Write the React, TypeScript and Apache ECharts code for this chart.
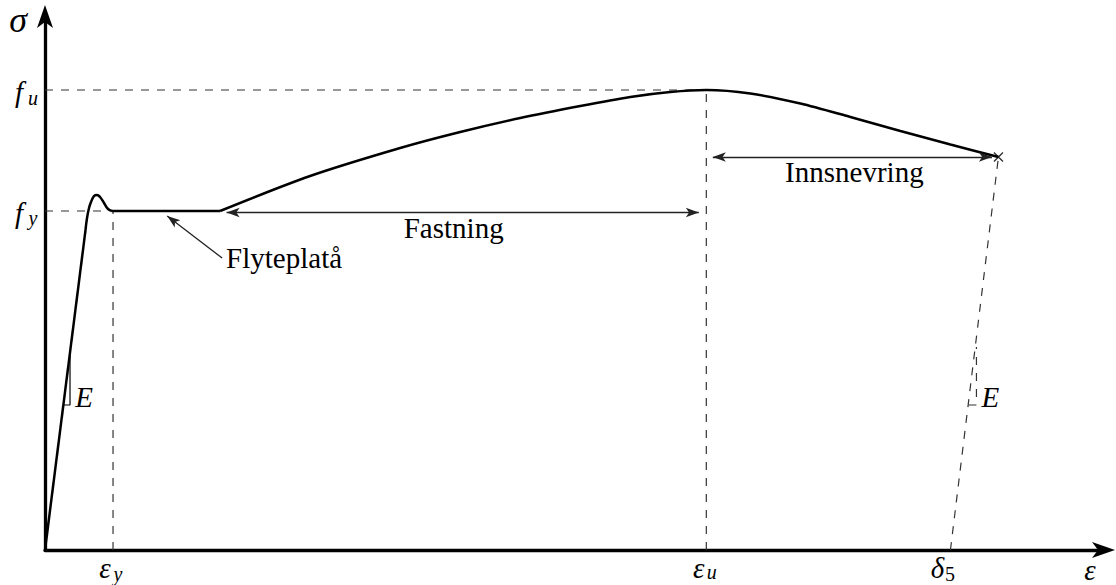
import React, { useEffect, useRef } from "react";
import * as echarts from "echarts";

// Schematic stress–strain diagram for structural steel (arbitrary units)
const EPS_MAX = 1058;
const SIG_MAX = 534;

const epsY = 68; // yield strain
const epsU = 661; // strain at ultimate strength
const delta5 = 905; // elongation after fracture
const fY = 339; // yield strength
const fU = 460; // ultimate strength

// linear elastic branch
const elasticBranch: number[][] = [[0, 0], [40.5, 320]];
// upper yield point, dropping back onto the plateau
const yieldPeak: number[][] = [
  [40.5, 320], [42, 332], [44, 342], [46, 348], [49, 354],
  [52, 355], [55, 353], [59, 347], [63, 341], [67, 339],
];
// yield plateau
const yieldPlateau: number[][] = [[67, 339], [175, 339]];
// strain hardening up to f_u, then necking down to fracture
const hardeningBranch: number[][] = [
  [175, 339], [265, 374], [355, 402], [415, 418], [475, 432], [535, 444],
  [585, 453], [625, 458], [661, 460], [705, 456.5], [755, 446.5],
  [805, 433], [855, 419], [905, 405.5], [953, 393],
];
const fracturePoint: number[][] = [[953, 393]];

// slope markers for the modulus E
const slopeMarkLeft: number[][] = [[18.5, 145], [25, 145], [25, 196]];
const slopeMarkRight: number[][] = [[923, 145], [931, 145], [931, 203]];

const ARROW_W = 7;
const ARROW_H = 13;

export default function App() {
  const ref = useRef<HTMLDivElement>(null);

  useEffect(() => {
    document.body.style.margin = "0";
    const el = ref.current!;
    const chart = echarts.init(el, null, { renderer: "svg" });

    const curveStyle = { color: "#000", width: 2.5 };
    const dashStyle = { color: "#333", width: 1.2, type: [8, 8] as number[] };
    const thinStyle = { color: "#222", width: 1.3, type: "solid" as const };

    const plain = (data: number[][], lineStyle: any, smooth: number | boolean = false) => ({
      type: "line",
      data,
      symbol: "none",
      smooth,
      lineStyle,
      silent: true,
      animation: false,
      z: 3,
    });

    // pull an arrow end back so that the head's tip lands on the given point
    const pull = (from: number[], to: number[], d: number) => {
      const vx = to[0] - from[0];
      const vy = to[1] - from[1];
      const len = Math.hypot(vx, vy);
      return [to[0] - (vx / len) * d, to[1] - (vy / len) * d];
    };
    const doubleArrow = (a: number[], b: number[]) => [
      { coord: pull(b, a, ARROW_H / 2) },
      { coord: pull(a, b, ARROW_H / 2) },
    ];

    const fastA = [yieldPlateau[1][0], fY - 1.5];
    const fastB = [epsU - 1, fY - 1.5];
    const innA = [epsU, fracturePoint[0][1]];
    const innB = fracturePoint[0];
    const flyTail = [177, 292];
    const flyTip = [117, fY - 1];

    const axisCommon = {
      type: "value",
      axisLine: { show: true, lineStyle: { color: "#000", width: 3.3 } },
      axisTick: { show: false },
      axisLabel: { show: false },
      splitLine: { show: false },
    };

    chart.setOption({
      animation: false,
      grid: { left: 45, right: 12.5, top: 16, bottom: 35 },
      xAxis: { ...axisCommon, min: 0, max: EPS_MAX },
      yAxis: { ...axisCommon, min: 0, max: SIG_MAX },
      series: [
        // guide lines
        plain([[0, fU], [epsU, fU]], dashStyle),
        plain([[0, fY], [57, fY]], dashStyle),
        plain([[epsY, 0], [epsY, fY]], dashStyle),
        plain([[epsU, 0], [epsU, fU]], dashStyle),
        plain([[delta5, 0], fracturePoint[0]], dashStyle),
        plain(slopeMarkRight, dashStyle),
        plain(slopeMarkLeft, { color: "#000", width: 1.2 }),
        // the curve
        plain(elasticBranch, curveStyle),
        plain(yieldPeak, curveStyle, 0.4),
        {
          ...plain(yieldPlateau, curveStyle),
          markLine: {
            silent: true,
            symbol: ["none", "arrow"],
            symbolSize: [ARROW_W, ARROW_H],
            label: { show: false },
            emphasis: { disabled: true },
            lineStyle: thinStyle,
            data: [[{ coord: flyTail }, { coord: pull(flyTail, flyTip, ARROW_H / 2) }]],
          },
        },
        {
          ...plain(hardeningBranch, curveStyle, 0.3),
          markLine: {
            silent: true,
            symbol: ["arrow", "arrow"],
            symbolSize: [ARROW_W, ARROW_H],
            label: { show: false },
            emphasis: { disabled: true },
            lineStyle: thinStyle,
            data: [doubleArrow(fastA, fastB), doubleArrow(innA, innB)],
          },
        },
        {
          type: "scatter",
          data: fracturePoint,
          symbol: "path://M0,0L10,10M10,0L0,10",
          symbolSize: 9,
          silent: true,
          itemStyle: { color: "transparent", borderColor: "#000", borderWidth: 1.4 },
          z: 4,
        },
      ],
    });

    const px = (x: number, y: number) =>
      chart.convertToPixel({ gridIndex: 0 }, [x, y]) as number[];

    const graphics: any[] = [];
    const text = (
      t: string,
      p: number[],
      dx: number,
      dy: number,
      size: number,
      italic: boolean,
      align = "center"
    ) =>
      graphics.push({
        type: "text",
        silent: true,
        x: p[0] + dx,
        y: p[1] + dy,
        z: 10,
        style: {
          text: t,
          fontFamily: '"Liberation Serif", serif',
          fontStyle: italic ? "italic" : "normal",
          fontSize: size,
          fill: "#000",
          align,
          verticalAlign: "middle",
        },
      });

    // stealth arrowheads at the ends of both axes
    const yEnd = px(0, SIG_MAX);
    const xEnd = px(EPS_MAX, 0);
    graphics.push({
      type: "polygon",
      silent: true,
      z: 10,
      shape: {
        points: [
          [yEnd[0], yEnd[1] - 11],
          [yEnd[0] + 8, yEnd[1] + 12],
          [yEnd[0], yEnd[1] + 6],
          [yEnd[0] - 8, yEnd[1] + 12],
        ],
      },
      style: { fill: "#000" },
    });
    graphics.push({
      type: "polygon",
      silent: true,
      z: 10,
      shape: {
        points: [
          [xEnd[0] + 11.5, xEnd[1]],
          [xEnd[0] - 11.5, xEnd[1] + 8],
          [xEnd[0] - 5.5, xEnd[1]],
          [xEnd[0] - 11.5, xEnd[1] - 8],
        ],
      },
      style: { fill: "#000" },
    });

    const MATH = 29;
    const SUB = 20;

    // axis titles
    text("σ", yEnd, -27, 4, 36, true);
    text("ε", xEnd, -13.5, 19.5, MATH, true);

    // stress levels
    const pu = px(0, fU);
    text("f", pu, -26, 2, MATH, true);
    text("u", pu, -12, 8, SUB, true);
    const py = px(0, fY);
    text("f", py, -26, 2, MATH, true);
    text("y", py, -12, 7, SUB, true);

    // strain levels
    const ey = px(epsY, 0);
    text("ε", ey, -8, 18, MATH, true);
    text("y", ey, 5, 24, SUB, true);
    const eu = px(epsU, 0);
    text("ε", eu, -7.5, 18, MATH, true);
    text("u", eu, 5.5, 22, SUB, true);
    const d5 = px(delta5, 0);
    text("δ", d5, -13, 18, MATH, true);
    text("5", d5, -0.5, 23.5, SUB, false);

    // modulus markers
    text("E", px(slopeMarkLeft[1][0], slopeMarkLeft[1][1]), 14, -8, MATH, true);
    text("E", px(slopeMarkRight[1][0], slopeMarkRight[1][1]), 14, -8, MATH, true);

    // region labels
    const fa = px(fastA[0], fastA[1]);
    const fb = px(fastB[0], fastB[1]);
    text("Fastning", [(fa[0] + fb[0]) / 2, fa[1]], -9, 15, MATH, false);
    const ia = px(innA[0], innA[1]);
    const ib = px(innB[0], innB[1]);
    text("Innsnevring", [(ia[0] + ib[0]) / 2, ia[1]], 2, 15, MATH, false);
    text("Flyteplatå", px(flyTail[0], flyTail[1]), 4, 0, MATH, false, "left");

    chart.setOption({ graphic: graphics });

    return () => chart.dispose();
  }, []);

  return (
    <div
      ref={ref}
      style={{ position: "absolute", left: 0, top: 0, width: 1116, height: 585 }}
    />
  );
}
